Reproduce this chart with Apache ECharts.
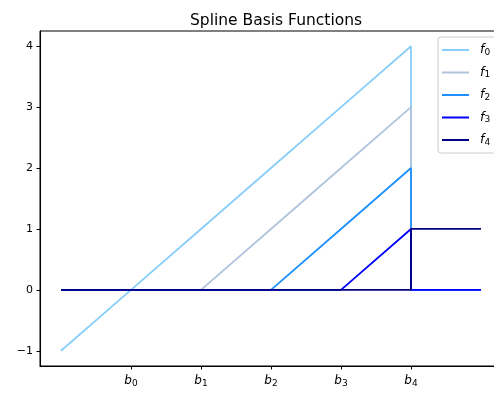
<!DOCTYPE html>
<html><head><meta charset="utf-8">
<script src="https://cdn.jsdelivr.net/npm/echarts@6/dist/echarts.min.js"></script>
<style>html,body{margin:0;padding:0;background:#fff}#c{width:494px;height:396px}</style>
</head><body><div id="c"></div>
<script>
var xs = [-1, 0, 1, 2, 3, 4, 4, 5];
var f0 = [-1, 0, 1, 2, 3, 4, 0, 0];
var f1 = [0, 0, 0, 1, 2, 3, 0, 0];
var f2 = [0, 0, 0, 0, 1, 2, 0, 0];
var f3 = [0, 0, 0, 0, 0, 1, 0, 0];
var f4 = [0, 0, 0, 0, 0, 0, 1, 1];
var seriesNames = ['f0', 'f1', 'f2', 'f3', 'f4'];
var knots = [0, 1, 2, 3, 4];
var knotLabels = ['b0', 'b1', 'b2', 'b3', 'b4'];
var yTicks = [-1, 0, 1, 2, 3, 4];
var colors = ['#87CEFA', '#B0C4DE', '#1E90FF', '#0000FF', '#000080'];
var allY = [f0, f1, f2, f3, f4];

var font = 'DejaVu Sans';
var chart = echarts.init(document.getElementById('c'), null, {renderer: 'canvas'});
var series = seriesNames.map(function (n, i) {
  return {
    name: n, type: 'line', showSymbol: false, symbol: 'none',
    lineStyle: {color: colors[i], width: 1.8}, itemStyle: {color: colors[i]},
    data: xs.map(function (x, j) { return [x, allY[i][j]]; }),
    animation: false, z: 2 + i
  };
});
function sub(lbl, prefixKey) {
  return '{' + prefixKey + '|' + lbl.charAt(0) + '}{s|' + lbl.slice(1) + '}';
}
chart.setOption({
  animation: false,
  title: {text: 'Spline Basis Functions', left: 185, top: 8,
    textStyle: {fontFamily: font, fontSize: 15.5, fontWeight: 'normal', color: '#000'}},
  grid: {left: 40, top: 31, width: 462, height: 335, show: true, borderColor: '#000', borderWidth: 1,
    backgroundColor: 'transparent', outerBoundsMode: 'none', containLabel: false},
  legend: {
    orient: 'vertical', left: 438, top: 37, itemWidth: 27, itemHeight: 2, itemGap: 8.5,
    icon: 'rect', padding: [6, 12, 6, 4], borderColor: '#cccccc', borderWidth: 1, borderRadius: 3,
    backgroundColor: 'rgba(255,255,255,0.8)',
    data: seriesNames.map(function (n, i) { return {name: n, itemStyle: {color: colors[i]}}; }),
    formatter: function (n) { return sub(n, 'i'); },
    textStyle: {fontFamily: font, fontSize: 12, color: '#000', lineHeight: 14, padding: [0, 0, 0, 6],
      rich: {i: {fontStyle: 'italic', fontSize: 12.5, fontFamily: font}, s: {fontSize: 9, verticalAlign: 'bottom', padding: [6, 0, 0, 0], fontFamily: font}}}
  },
  xAxis: {
    type: 'value', min: -1.3, max: 5.3, splitLine: {show: false},
    axisLine: {show: true, onZero: false, lineStyle: {color: '#000', width: 1}},
    axisTick: {show: true, customValues: knots, length: 3.5, lineStyle: {color: '#000'}},
    axisLabel: {customValues: knots, margin: 7, color: '#000',
      formatter: function (v) { var k = knots.indexOf(v); return k < 0 ? '' : sub(knotLabels[k], 'b'); },
      rich: {b: {fontStyle: 'italic', fontSize: 12, fontFamily: font, color: '#000'}, s: {fontSize: 9, fontFamily: font, color: '#000', padding: [6, 0, 0, 0]}}}
  },
  yAxis: {
    type: 'value', min: -1.25, max: 4.25, splitLine: {show: false},
    axisLine: {show: true, onZero: false, lineStyle: {color: '#000', width: 1}},
    axisTick: {show: true, customValues: yTicks, length: 3.5, lineStyle: {color: '#000'}},
    axisLabel: {customValues: yTicks, margin: 7, color: '#000', fontFamily: font, fontSize: 11,
      formatter: function (v) { return v < 0 ? '\u2212' + Math.abs(v) : String(v); }}
  },
  series: series
});
</script></body></html>
